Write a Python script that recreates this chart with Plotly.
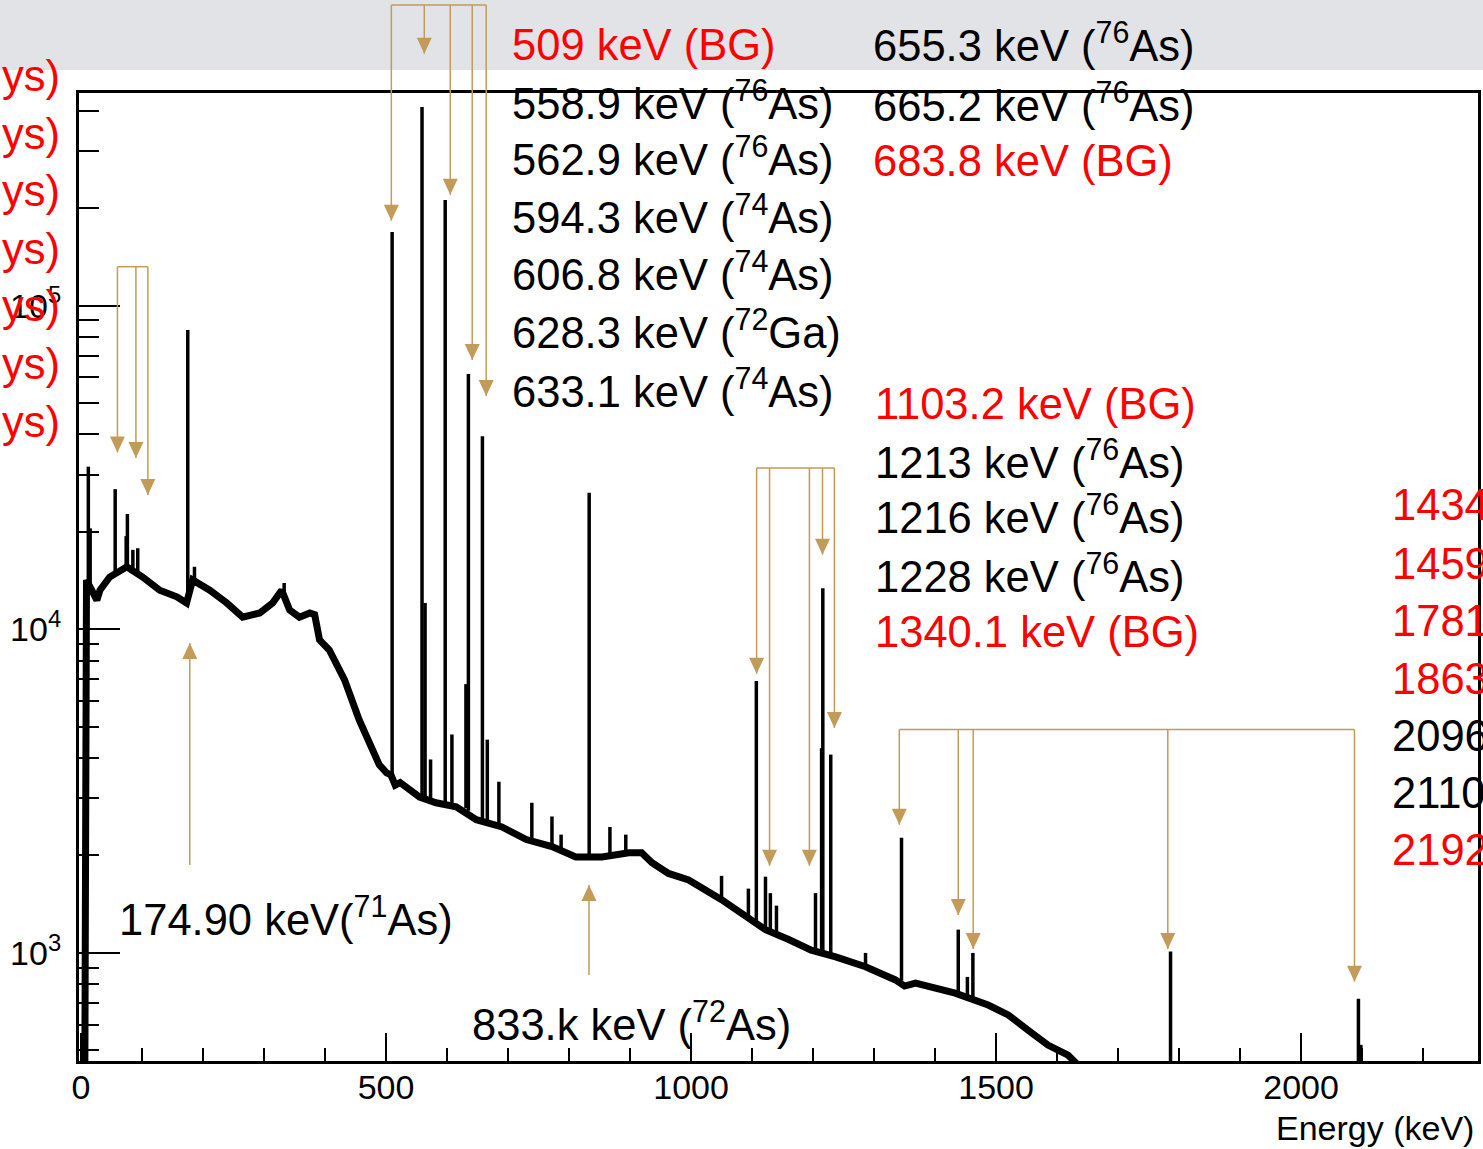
import numpy as np
import plotly.graph_objects as go

# ---------------- data ----------------
cont_energy = [6, 7, 9, 26, 31, 47, 75, 101, 129, 157, 173, 183, 211, 239, 265, 293, 314, 329,
               342, 358, 375, 383, 391, 407, 432, 456, 473, 489, 501, 508, 515, 523, 555, 582,
               615, 648, 690, 730, 772, 811, 854, 898, 919, 936, 963, 996, 1050, 1094, 1122,
               1160, 1197, 1237, 1286, 1335, 1350, 1368, 1433, 1487, 1520, 1552, 1585, 1618,
               1631, 1640, 1700, 1800, 1900, 2000, 2100, 2200, 2290]
cont_counts = [300, 13500, 14200, 12300, 13200, 14500, 15600, 14500, 13200, 12600, 12050, 14200,
               13200, 12050, 10900, 11230, 12050, 13200, 11470, 10900, 11230, 11100, 9270, 8630,
               6980, 5250, 4460, 3810, 3600, 3550, 3300, 3360, 3030, 2910, 2830, 2580, 2450,
               2240, 2130, 1980, 1980, 2040, 2040, 1900, 1760, 1680, 1460, 1290, 1180, 1100,
               1020, 972, 906, 825, 790, 807, 751, 690, 643, 578, 519, 483, 457, 420, 390, 360,
               330, 300, 270, 250, 230]

peak_energy = [12, 15, 56, 74, 76, 85, 93, 175, 186, 333, 510, 559, 564, 573, 597, 608, 631,
               635, 658, 666, 685, 739, 772, 787, 833, 867, 893, 1050, 1094, 1107, 1122, 1130,
               1140, 1204, 1214, 1216, 1229, 1286, 1345, 1438, 1453, 1462, 1786, 2094, 2098]
peak_counts = [31800, 20500, 27100, 19400, 22700, 17600, 17800, 84100, 15600, 13900, 169000,
               411000, 12060, 3960, 212000, 4730, 6770, 61500, 39500, 4560, 3380, 2910, 2640,
               2320, 26400, 2450, 2320, 1730, 1580, 6920, 1720, 1530, 1400, 1530, 4290, 13400,
               4100, 1000, 2270, 1180, 843, 1000, 1010, 722, 520]
peak_base = [14000, 13800, 14800, 15500, 15500, 15300, 15000, 12200, 13600, 12500, 3500, 3000,
             3000, 2950, 2900, 2850, 2800, 2750, 2570, 2550, 2470, 2210, 2130, 2070, 1980, 1980,
             2030, 1460, 1290, 1250, 1180, 1160, 1140, 1010, 1000, 1000, 980, 906, 820, 750,
             730, 720, 380, 250, 250]

x_tick_vals = [0, 500, 1000, 1500, 2000]
x_tick_text = ["0", "500", "1000", "1500", "2000"]
y_tick_vals = [1e3, 1e4, 1e5]
y_tick_text = ["10<sup>3</sup>", "10<sup>4</sup>", "10<sup>5</sup>"]
x_title = "Energy (keV)"

# arrow groups: energies (keV), tip heights (counts), bracket height (counts)
arrow_groups = [
    ([508.7, 562.7, 605.3, 641.3, 664.2], [183000, 600000, 220000, 67900, 52600], 849000),
    ([59.7, 90.0, 109.6], [35200, 33800, 26000], 131900),
    ([1107.5, 1128.7, 1194.0, 1215.5, 1235.0], [7290, 1860, 1860, 17000, 4950], 31500),
    ([1341.4, 1438.0, 1462.5, 1781.5, 2087.5], [2490, 1310, 1028, 1028, 815], 4900),
]
up_arrows = [(178.3, 9070, 1870), (832.7, 1622, 855)]  # energy, tip, tail

labels_col_a = ["509 keV (BG)", "558.9 keV (<sup>76</sup>As)", "562.9 keV (<sup>76</sup>As)",
                "594.3 keV (<sup>74</sup>As)", "606.8 keV (<sup>74</sup>As)",
                "628.3 keV (<sup>72</sup>Ga)", "633.1 keV (<sup>74</sup>As)"]
labels_col_b = ["655.3 keV (<sup>76</sup>As)", "665.2 keV (<sup>76</sup>As)", "683.8 keV (BG)"]
labels_col_c = ["1103.2 keV (BG)", "1213 keV (<sup>76</sup>As)", "1216 keV (<sup>76</sup>As)",
                "1228 keV (<sup>76</sup>As)", "1340.1 keV (BG)"]
labels_col_d = ["1434 keV (BG)", "1459 keV (BG)", "1781 keV (BG)", "1863 keV (BG)",
                "2096 keV (<sup>76</sup>As)", "2110 keV (<sup>76</sup>As)", "2192 keV (BG)"]
labels_left = ["ys)"] * 7
label_low_1 = "174.90 keV(<sup>71</sup>As)"
label_low_2 = "833.k keV (<sup>72</sup>As)"

# ---------------- layout / style ----------------
RED, BLACK, GOLD = "#ff0000", "#000000", "#c29b58"
FONT = "Liberation Sans, Arial, Helvetica, sans-serif"
W, H = 1483, 1149
ML, MR, MT, MB = 79, 2, 93, 88
PW, PH = W - ML - MR, H - MT - MB
X_RANGE = [-3.3, 2290]
Y_RANGE = [2.666, 5.657]


def fx(px):
    return (px - ML) / PW


def fy(py):
    return (H - MB - py) / PH


def cfrac(c):
    return (np.log10(c) - Y_RANGE[0]) / (Y_RANGE[1] - Y_RANGE[0])


fig = go.Figure()
fig.add_trace(go.Scatter(x=cont_energy, y=cont_counts, mode="lines",
                         line=dict(color=BLACK, width=7), hoverinfo="skip"))
px_, py_ = [], []
for e, top, base in zip(peak_energy, peak_counts, peak_base):
    px_ += [e, e, None]
    py_ += [base, top, None]
fig.add_trace(go.Scatter(x=px_, y=py_, mode="lines",
                         line=dict(color=BLACK, width=3.5), hoverinfo="skip"))

shapes = [dict(type="rect", xref="paper", yref="paper", x0=-0.1, x1=1.1,
               y0=fy(70), y1=fy(-20), fillcolor="#e2e3e7", line=dict(width=0), layer="below")]

HEAD_DOWN = "M-7.5,16 L7.5,16 L0,0 Z"
HEAD_UP = "M-7.5,-16 L7.5,-16 L0,0 Z"
for energies, tips, bracket in arrow_groups:
    bf = cfrac(bracket)
    shapes.append(dict(type="line", xref="x", yref="paper", x0=min(energies), x1=max(energies),
                       y0=bf, y1=bf, line=dict(color=GOLD, width=1.5)))
    for e, t in zip(energies, tips):
        tf = cfrac(t)
        shapes.append(dict(type="line", xref="x", yref="paper", x0=e, x1=e, y0=tf, y1=bf,
                           line=dict(color=GOLD, width=1.5)))
        shapes.append(dict(type="path", xref="x", yref="paper", xsizemode="pixel",
                           ysizemode="pixel", xanchor=e, yanchor=tf, path=HEAD_DOWN,
                           fillcolor=GOLD, line=dict(width=0)))
for e, t, tail in up_arrows:
    shapes.append(dict(type="line", xref="x", yref="paper", x0=e, x1=e, y0=cfrac(tail),
                       y1=cfrac(t), line=dict(color=GOLD, width=1.5)))
    shapes.append(dict(type="path", xref="x", yref="paper", xsizemode="pixel",
                       ysizemode="pixel", xanchor=e, yanchor=cfrac(t), path=HEAD_UP,
                       fillcolor=GOLD, line=dict(width=0)))

annotations = []


def add_text(text, xpx, ypx, color, anchor="left"):
    # labels with a superscript get a taller box; compensate so baselines line up
    ypx = ypx - (4 if "<sup>" in text else 1)
    annotations.append(dict(text=text, xref="paper", yref="paper", x=fx(xpx), y=fy(ypx),
                            xanchor=anchor, yanchor="middle", showarrow=False,
                            font=dict(family=FONT, size=43.5, color=color)))


col_a_y = [46, 104, 160, 218, 275, 333, 392]
col_a_c = [RED] + [BLACK] * 6
for t, y, c in zip(labels_col_a, col_a_y, col_a_c):
    add_text(t, 511, y, c)
for t, y, c in zip(labels_col_b, [46, 106, 162], [BLACK, BLACK, RED]):
    add_text(t, 873, y, c)
for t, y, c in zip(labels_col_c, [405, 463, 518, 577, 633], [RED, BLACK, BLACK, BLACK, RED]):
    add_text(t, 875, y, c)
for t, y, c in zip(labels_col_d, [506, 565, 622, 680, 736, 793, 851],
                   [RED, RED, RED, RED, BLACK, BLACK, RED]):
    add_text(t, 1393, y, c)
for t, y in zip(labels_left, [77, 135, 192, 250, 307, 365, 423]):
    add_text(t, 62, y, RED, anchor="right")
add_text(label_low_1, 117, 920, BLACK)
add_text(label_low_2, 471, 1025, BLACK)
annotations.append(dict(text=x_title, xref="paper", yref="paper", x=fx(1479), y=fy(1128),
                        xanchor="right", yanchor="middle", showarrow=False,
                        font=dict(family=FONT, size=34, color=BLACK)))

fig.update_layout(
    width=W, height=H, margin=dict(l=ML, r=MR, t=MT, b=MB, pad=0),
    paper_bgcolor="white", plot_bgcolor="white", showlegend=False,
    shapes=shapes, annotations=annotations, hovermode=False,
    xaxis=dict(range=X_RANGE, showgrid=False, zeroline=False, showline=True, linecolor=BLACK,
               linewidth=3, mirror=True, ticks="inside", ticklen=28, tickwidth=2,
               tickcolor=BLACK, tickmode="array", tickvals=x_tick_vals, ticktext=x_tick_text,
               tickfont=dict(family=FONT, size=34, color=BLACK), ticklabelstandoff=-6,
               minor=dict(ticks="inside", ticklen=13, tickwidth=2, tickcolor=BLACK,
                          tick0=0, dtick=100, showgrid=False)),
    yaxis=dict(type="log", range=Y_RANGE, showgrid=False, zeroline=False, showline=True,
               linecolor=BLACK, linewidth=3, mirror=True, ticks="inside", ticklen=41,
               tickwidth=2, tickcolor=BLACK, tickmode="array", tickvals=y_tick_vals,
               ticktext=y_tick_text, tickfont=dict(family=FONT, size=34, color=BLACK),
               ticklabelstandoff=8,
               minor=dict(ticks="inside", ticklen=20, tickwidth=2, tickcolor=BLACK,
                          dtick="D1", showgrid=False)),
)

fig.write_html("out.html", config={"displayModeBar": False})
